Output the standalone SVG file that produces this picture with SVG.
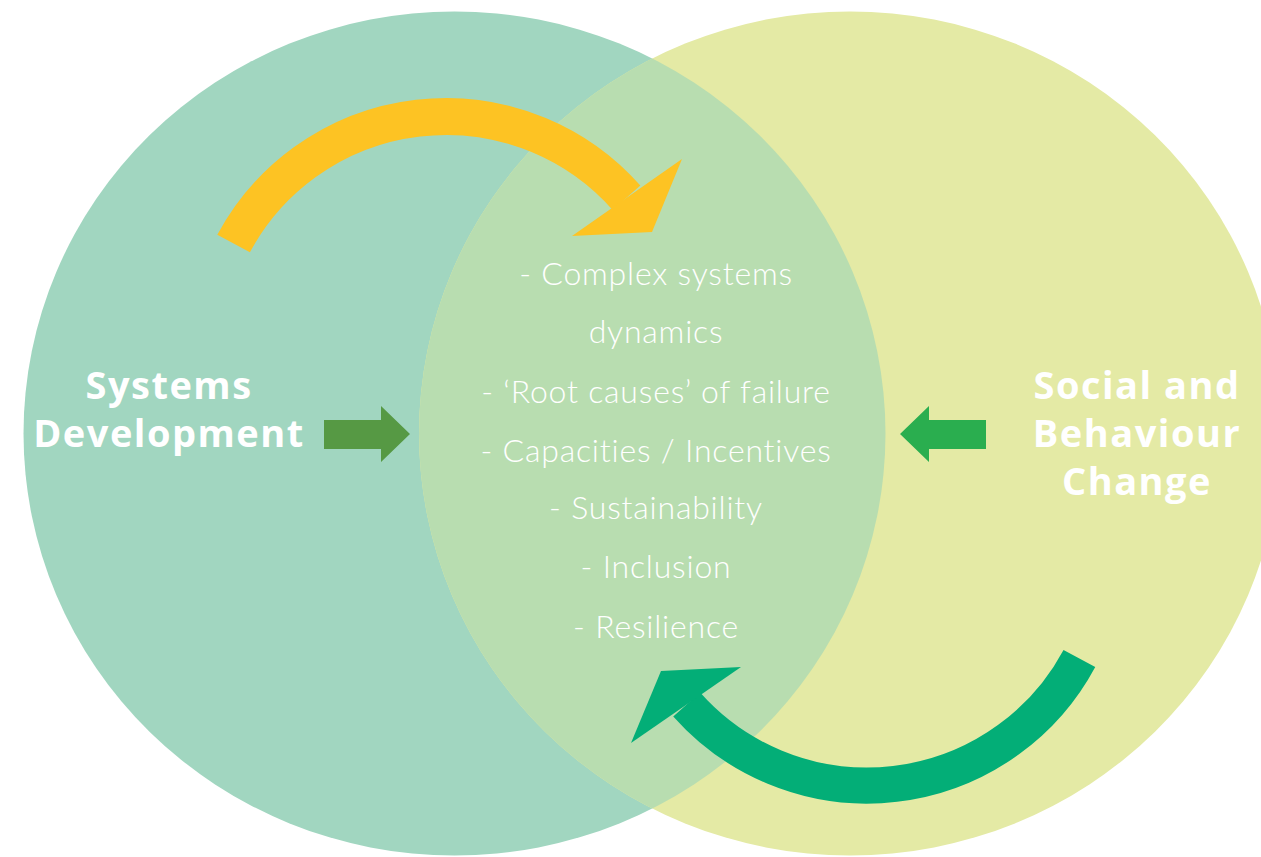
<svg xmlns="http://www.w3.org/2000/svg" width="1261" height="857" viewBox="0 0 1261 857">
<style>
.lbl{font-family:"Open Sans",Lato,"Liberation Sans",sans-serif;font-weight:700;font-size:38px;letter-spacing:1.5px;fill:#ffffff;text-anchor:middle}
.item{font-family:Lato,"Open Sans","Liberation Sans",sans-serif;font-weight:300;font-size:32px;letter-spacing:0.8px;fill:#ffffff;text-anchor:middle}
</style>
<defs>
<clipPath id="clipL"><ellipse cx="454.5" cy="433.5" rx="431" ry="422"/></clipPath>
</defs>
<rect width="1261" height="857" fill="#ffffff"/>
<g id="circle-systems">
<ellipse cx="454.5" cy="433.5" rx="431" ry="422" fill="#a1d6c0"/>
</g>
<g id="circle-social">
<ellipse cx="850" cy="433.5" rx="431" ry="422" fill="#e4eaa5"/>
</g>
<g id="overlap">
<ellipse cx="850" cy="433.5" rx="431" ry="422" fill="#b8ddb0" clip-path="url(#clipL)"/>
</g>
<g id="connectors">
<path d="M233.6,243.6 A241,241 0 0 1 626.5,197.8" fill="none" stroke="#fdc323" stroke-width="37"/>
<polygon points="682,159 652,232 572,236" fill="#fdc323"/>
<path d="M1079.4,658.4 A241,241 0 0 1 686.7,704.5" fill="none" stroke="#03ae77" stroke-width="36"/>
<polygon points="741,667 661,671 631,743" fill="#03ae77"/>
<polygon points="324,420 381,420 381,406 410,434 381,462 381,449 324,449" fill="#569944"/>
<polygon points="986,420 929,420 929,406 900,434 929,462 929,449 986,449" fill="#2aae4f"/>
</g>
<g id="label-systems">
<text class="lbl" x="169" y="399">Systems</text>
<text class="lbl" x="169" y="447">Development</text>
</g>
<g id="label-social">
<text class="lbl" x="1137" y="399">Social and</text>
<text class="lbl" x="1137" y="447">Behaviour</text>
<text class="lbl" x="1137" y="495">Change</text>
</g>
<g id="center-items">
<text class="item" x="656" y="285">- Complex systems</text>
<text class="item" x="656" y="343">dynamics</text>
<text class="item" x="656" y="403">- ‘Root causes’ of failure</text>
<text class="item" x="656" y="462">- Capacities / Incentives</text>
<text class="item" x="656" y="519">- Sustainability</text>
<text class="item" x="656" y="578">- Inclusion</text>
<text class="item" x="656" y="638">- Resilience</text>
</g>
</svg>
